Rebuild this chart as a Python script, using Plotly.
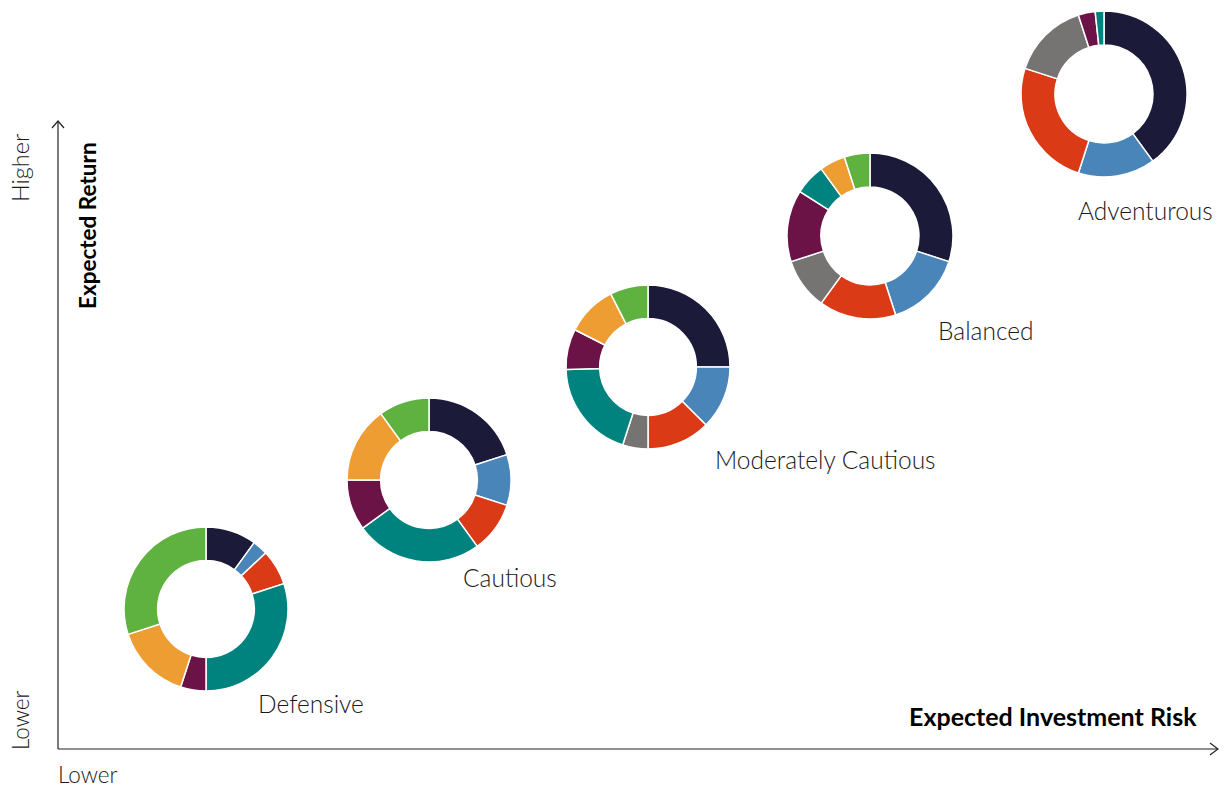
import plotly.graph_objects as go

W, H = 1230, 787

# ---- data ----
portfolios = ["Defensive", "Cautious", "Moderately Cautious", "Balanced", "Adventurous"]
defensive_labels = ["Navy", "Blue", "Red", "Teal", "Maroon", "Orange", "Green"]
defensive_values = [10, 3, 7, 30, 5, 15, 30]
cautious_labels = ["Navy", "Blue", "Red", "Teal", "Maroon", "Orange", "Green"]
cautious_values = [20, 10, 10, 25, 10, 15, 10]
modcautious_labels = ["Navy", "Blue", "Red", "Grey", "Teal", "Maroon", "Orange", "Green"]
modcautious_values = [25, 12.5, 12.5, 5, 19.5, 8, 10, 7.5]
balanced_labels = ["Navy", "Blue", "Red", "Grey", "Maroon", "Teal", "Orange", "Green"]
balanced_values = [30, 15, 15, 10, 14, 6, 5, 5]
adventurous_labels = ["Navy", "Blue", "Red", "Grey", "Maroon", "Teal"]
adventurous_values = [40, 15, 25, 15, 3.3, 1.7]

# ---- styles / layout ----
palette = {
    "Navy": "#1b1a38", "Blue": "#4a85b9", "Red": "#da3a15", "Grey": "#767473",
    "Maroon": "#6b1346", "Teal": "#00837f", "Orange": "#ee9d33", "Green": "#60b240",
}
# donut centre in pixels, outer radius, label anchor in pixels
placement = {
    "Defensive": ((206, 609), 82, (256, 703)),
    "Cautious": ((429, 480), 82, (461, 577)),
    "Moderately Cautious": ((648, 367), 82, (713, 459)),
    "Balanced": ((870, 236), 83, (936, 330)),
    "Adventurous": ((1104, 94), 83, (1076, 211)),
}
series = {
    "Defensive": (defensive_labels, defensive_values),
    "Cautious": (cautious_labels, cautious_values),
    "Moderately Cautious": (modcautious_labels, modcautious_values),
    "Balanced": (balanced_labels, balanced_values),
    "Adventurous": (adventurous_labels, adventurous_values),
}

def px(x):
    return x / W

def py(y):
    return 1 - y / H

FONT = "Lato"
TXT = "#1a1a1a"

fig = go.Figure()
annotations = []
for name in portfolios:
    labels, values = series[name]
    (cx, cy), r, (lx, ly) = placement[name]
    fig.add_trace(go.Pie(
        labels=labels, values=values, name=name,
        hole=0.59, sort=False, direction="clockwise", rotation=0,
        marker=dict(colors=[palette[l] for l in labels], line=dict(color="white", width=1.5)),
        textinfo="none", showlegend=False,
        domain=dict(x=[px(cx - r), px(cx + r)], y=[py(cy + r), py(cy - r)]),
    ))
    annotations.append(dict(
        x=px(lx), y=py(ly), xref="paper", yref="paper", text=name, showarrow=False,
        xanchor="left", yanchor="middle",
        font=dict(family=FONT, size=24.5, color=TXT, weight=300),
    ))

# axis labels
annotations += [
    dict(x=px(20), y=py(168), text="Higher", textangle=-90, showarrow=False,
         xref="paper", yref="paper", xanchor="center", yanchor="middle",
         font=dict(family=FONT, size=23.5, color=TXT, weight=300)),
    dict(x=px(20), y=py(720), text="Lower", textangle=-90, showarrow=False,
         xref="paper", yref="paper", xanchor="center", yanchor="middle",
         font=dict(family=FONT, size=22.5, color=TXT, weight=300)),
    dict(x=px(87), y=py(225), text="<b>Expected Return</b>", textangle=-90, showarrow=False,
         xref="paper", yref="paper", xanchor="center", yanchor="middle",
         font=dict(family=FONT, size=22.5, color="#000")),
    dict(x=px(56), y=py(774), text="Lower", showarrow=False,
         xref="paper", yref="paper", xanchor="left", yanchor="middle",
         font=dict(family=FONT, size=22.5, color=TXT, weight=300)),
    dict(x=px(1199), y=py(716), text="<b>Expected Investment Risk</b>", showarrow=False,
         xref="paper", yref="paper", xanchor="right", yanchor="middle",
         font=dict(family=FONT, size=25, color="#000")),
]

line = dict(color="#222", width=1.2)
ox, oy = 58, 749
shapes = [
    dict(type="line", xref="paper", yref="paper", x0=px(ox), y0=py(oy), x1=px(ox), y1=py(121), line=line),
    dict(type="line", xref="paper", yref="paper", x0=px(ox), y0=py(oy), x1=px(1218), y1=py(oy), line=line),
    dict(type="path", xref="paper", yref="paper",
         path=f"M {px(ox-6)} {py(128)} L {px(ox)} {py(121)} L {px(ox+6)} {py(128)}", line=line),
    dict(type="path", xref="paper", yref="paper",
         path=f"M {px(1210)} {py(oy-6)} L {px(1218)} {py(oy)} L {px(1210)} {py(oy+6)}", line=line),
]

fig.update_layout(
    width=W, height=H, margin=dict(l=0, r=0, t=0, b=0),
    paper_bgcolor="white", plot_bgcolor="white",
    annotations=annotations, shapes=shapes,
    font=dict(family=FONT),
)
fig.write_html("out.html", config={"displayModeBar": False},
               post_script="document.body.style.margin='0';document.body.style.overflow='hidden';")
